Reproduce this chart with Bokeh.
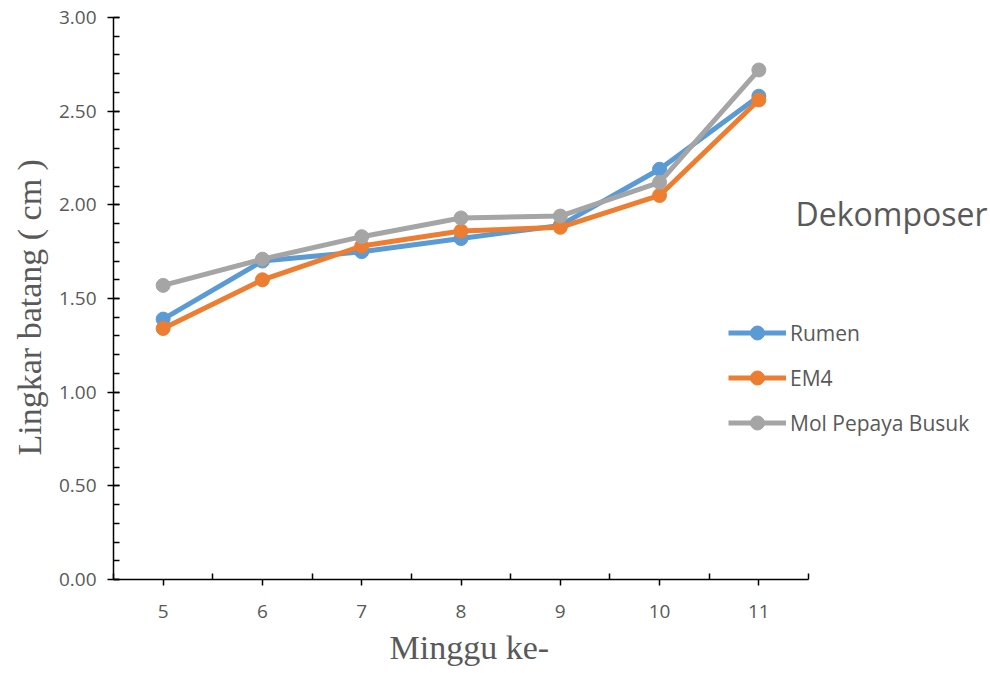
from bokeh.plotting import figure
from bokeh.models import (FixedTicker, NumeralTickFormatter, Legend, LegendItem,
                          Label, Range1d, ColumnDataSource, Title)
from bokeh.embed import file_html
from bokeh.resources import INLINE

weeks = [5, 6, 7, 8, 9, 10, 11]
rumen = [1.39, 1.70, 1.75, 1.82, 1.89, 2.19, 2.58]
em4 = [1.34, 1.60, 1.78, 1.86, 1.88, 2.05, 2.56]
mol = [1.57, 1.71, 1.83, 1.93, 1.94, 2.12, 2.72]
series_names = ["Rumen", "EM4", "Mol Pepaya Busuk"]
series_colors = ["#5B9BD5", "#ED7D31", "#A5A5A5"]
y_ticks = [0.0, 0.5, 1.0, 1.5, 2.0, 2.5, 3.0]
y_minor = [0.0, 0.1, 0.2, 0.3, 0.4, 0.5, 0.6, 0.7, 0.8, 0.9, 1.0, 1.1, 1.2, 1.3,
           1.4, 1.5, 1.6, 1.7, 1.8, 1.9, 2.0, 2.1, 2.2, 2.3, 2.4, 2.5, 2.6, 2.7,
           2.8, 2.9, 3.0]
x_minor = [4.5, 5.5, 6.5, 7.5, 8.5, 9.5, 10.5, 11.5]

TXT = "#595959"

# frame spans to the right edge so the legend/title are not clipped;
# the x axis line itself is bounded to 4.5..11.5
x_start, x_axis_end = 4.5, 11.5
x_end = x_start + (x_axis_end - x_start) * 877 / 695

p = figure(width=990, height=673, output_backend="svg", toolbar_location=None,
           x_range=Range1d(x_start, x_end), y_range=Range1d(0, 3),
           min_border_left=113, min_border_right=0, min_border_top=17,
           min_border_bottom=94)
p.outline_line_color = None
p.xgrid.grid_line_color = None
p.ygrid.grid_line_color = None
p.background_fill_color = "white"
p.border_fill_color = "white"

items = []
for name, vals, col in zip(series_names, [rumen, em4, mol], series_colors):
    src = ColumnDataSource(dict(x=weeks, y=vals))
    r1 = p.line("x", "y", source=src, line_color=col, line_width=5)
    r2 = p.scatter("x", "y", source=src, size=14, fill_color=col, line_color=col)
    items.append(LegendItem(label=name, renderers=[r1, r2]))

# axes
xa = p.xaxis[0]
xa.bounds = (x_start, x_axis_end)
xa.ticker = FixedTicker(ticks=weeks, minor_ticks=x_minor)
xa.axis_line_color = "black"
xa.axis_line_width = 1.5
xa.major_tick_line_color = "black"
xa.major_tick_line_width = 1.5
xa.major_tick_out = 6
xa.major_tick_in = 0
xa.minor_tick_line_color = "black"
xa.minor_tick_line_width = 1.5
xa.minor_tick_in = 6
xa.minor_tick_out = 0
xa.major_label_text_font = "Open Sans"
xa.major_label_text_font_size = "19px"
xa.major_label_text_color = TXT
xa.major_label_standoff = 19

xtitle = Title(text="Minggu ke-", align="left", offset=276, standoff=12,
               text_font="Liberation Serif", text_font_style="normal",
               text_font_size="34px", text_color=TXT)
p.add_layout(xtitle, "below")

ya = p.yaxis[0]
ya.ticker = FixedTicker(ticks=y_ticks, minor_ticks=y_minor)
ya.formatter = NumeralTickFormatter(format="0.00")
ya.axis_line_color = "black"
ya.axis_line_width = 1.5
ya.major_tick_line_color = "black"
ya.major_tick_line_width = 1.5
ya.major_tick_out = 6
ya.major_tick_in = 6
ya.minor_tick_line_color = "black"
ya.minor_tick_line_width = 1.5
ya.minor_tick_in = 6
ya.minor_tick_out = 0
ya.major_label_text_font = "Open Sans"
ya.major_label_text_font_size = "19px"
ya.major_label_text_color = TXT
ya.major_label_standoff = 11

ytitle = Title(text="Lingkar batang ( cm )", align="left", offset=124, standoff=15,
               text_font="Liberation Serif", text_font_style="normal",
               text_font_size="34px", text_color=TXT)
p.add_layout(ytitle, "left")

legend = Legend(items=items, location=(615, 139), orientation="vertical",
                glyph_width=58, glyph_height=35, spacing=10, padding=0, margin=0,
                label_text_font="Open Sans", label_text_font_size="21px",
                label_text_color=TXT, label_standoff=4,
                border_line_color=None, background_fill_alpha=0)
p.add_layout(legend, "center")

title = Label(x=682, y=366, x_units="screen", y_units="screen", text="Dekomposer",
              text_font="Open Sans", text_font_size="32px", text_color=TXT,
              text_baseline="middle", text_align="left")
p.add_layout(title)

open("out.html", "w").write(file_html(p, INLINE))
